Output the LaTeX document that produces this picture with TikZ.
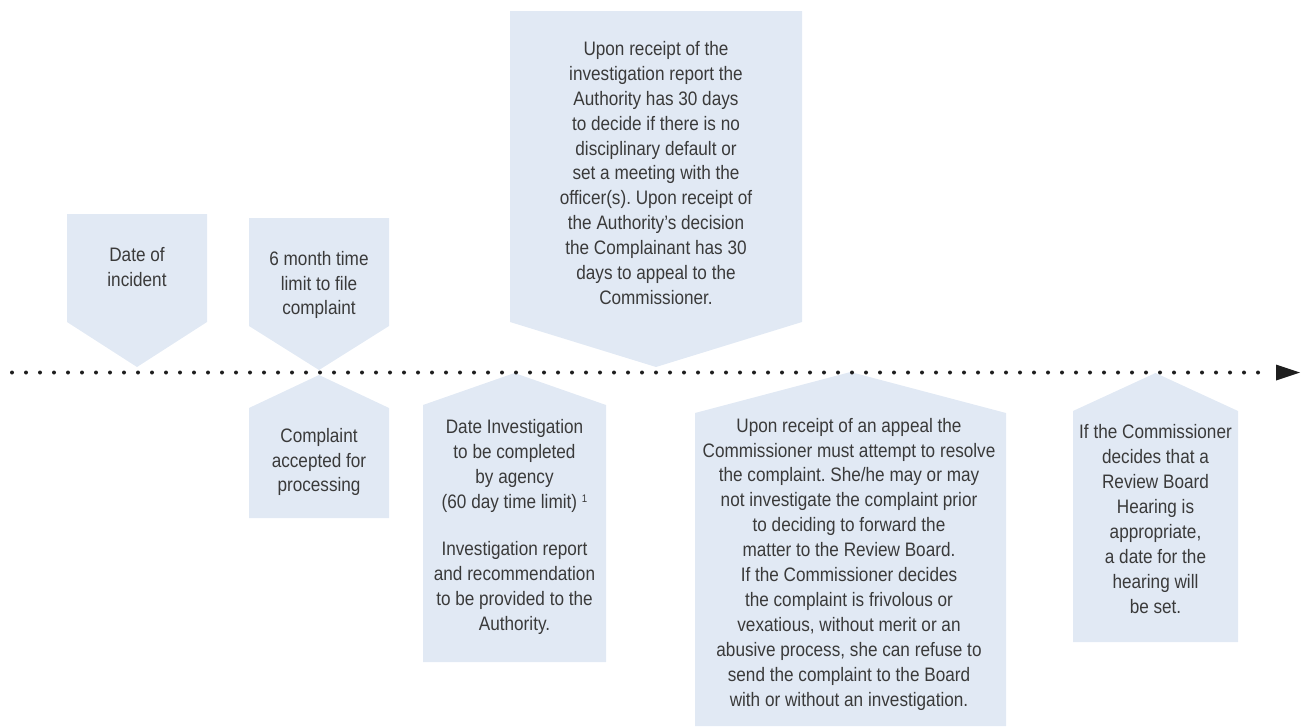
\documentclass[tikz,border=0pt]{standalone}
\usepackage{fontspec}
\setmainfont[FakeStretch=0.88]{Liberation Sans}
\frenchspacing
\definecolor{boxblue}{HTML}{E1E9F4}
\definecolor{txtgray}{HTML}{3A3A3A}
\definecolor{dotcol}{HTML}{1E1E1E}
\begin{document}
\begin{tikzpicture}[x=1pt,y=-1pt,
  boxshape/.style={fill=boxblue},
  lbl/.style={align=center,font=\fontsize{19.5}{24.9}\selectfont\frenchspacing,text=txtgray,inner sep=0pt},
  dotline/.style={dotcol,line width=4pt,line cap=round,dash pattern=on 0pt off 14pt}]
\useasboundingbox (0,0) rectangle (1301,726);
% shapes above the line
\fill[boxshape] (67,214) -- (207,214) -- (207,322) -- (137,367) -- (67,322) -- cycle;
\fill[boxshape] (249,218) -- (389,218) -- (389,326) -- (319,370) -- (249,326) -- cycle;
\fill[boxshape] (510,11) -- (802,11) -- (802,322) -- (656,367) -- (510,322) -- cycle;
% shapes below the line
\fill[boxshape] (319,375) -- (389,408) -- (389,518) -- (249,518) -- (249,408) -- cycle;
\fill[boxshape] (514.5,373) -- (606,405) -- (606,662) -- (423,662) -- (423,405) -- cycle;
\fill[boxshape] (850.5,372) -- (1006,413) -- (1006,726) -- (695,726) -- (695,413) -- cycle;
\fill[boxshape] (1155.5,373) -- (1238,411) -- (1238,642) -- (1073,642) -- (1073,411) -- cycle;
% timeline
\coordinate (tl0) at (12,372.5);
\coordinate (tl1) at (1272,372.5);
\draw[dotline] (tl0) -- (tl1);
\coordinate (tip) at (1300,372.5);
\fill[dotcol] (1276,364.5) -- (tip) -- (1276,380.5) -- cycle;
% texts
\node[lbl] (incident) at (137,267) {Date of\\incident};
\node[lbl] (sixmonth) at (319,285) {6 month time\\limit to file\\complaint};
\node[lbl] (accepted) at (319,462) {Complaint\\accepted for\\processing};
\node[lbl] (authority) at (656,173) {Upon receipt of the\\investigation report the\\Authority has 30 days\\to decide if there is no\\disciplinary default or\\set a meeting with the\\officer(s). Upon receipt of\\the Authority’s decision\\the Complainant has 30\\days to appeal to the\\Commissioner.};
\node[lbl] (investigation) at (514.5,527) {Date Investigation\\to be completed\\by agency\\(60 day time limit) {\fontsize{11}{11}\selectfont\raisebox{6pt}{1}}\\[22pt]Investigation report\\and recommendation\\to be provided to the\\Authority.};
\node[lbl] (commissioner) at (849,564) {Upon receipt of an appeal the\\Commissioner must attempt to resolve\\the complaint. She/he may or may\\not investigate the complaint prior\\to deciding to forward the\\matter to the Review Board.\\If the Commissioner decides\\the complaint is frivolous or\\vexatious, without merit or an\\abusive process, she can refuse to\\send the complaint to the Board\\with or without an investigation.};
\node[lbl] (hearing) at (1155.5,519) {If the Commissioner\\decides that a\\Review Board\\Hearing is\\appropriate,\\a date for the\\hearing will\\be set.};
\end{tikzpicture}
\end{document}
